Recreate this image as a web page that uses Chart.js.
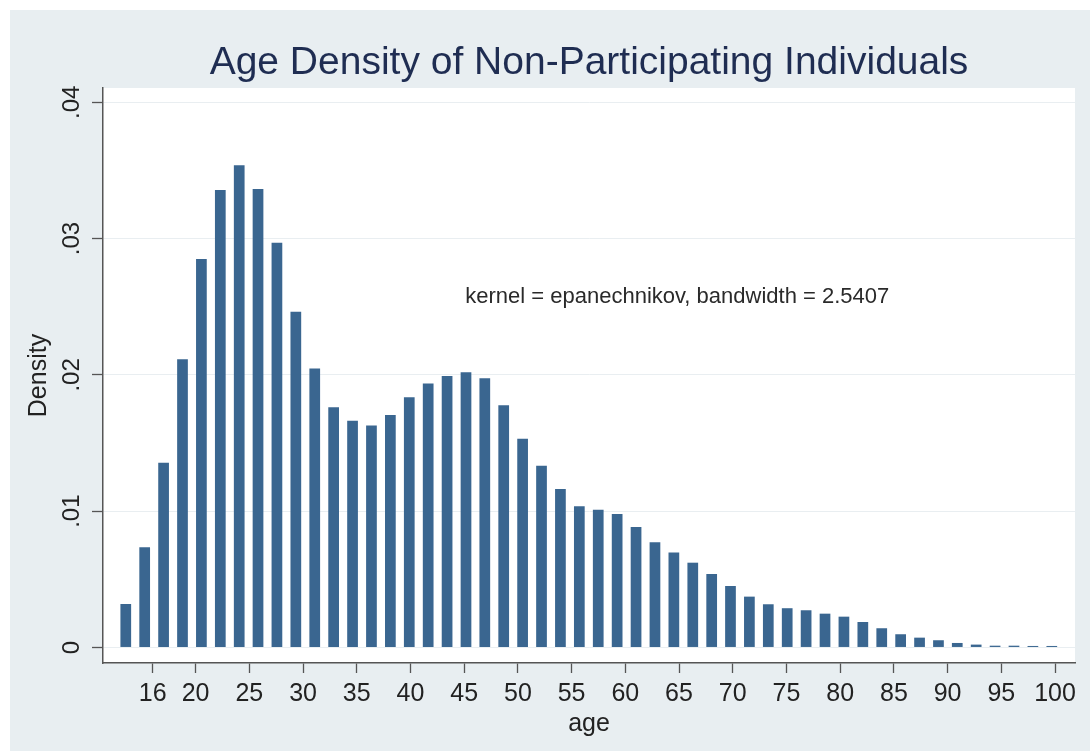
<!DOCTYPE html>
<html>
<head>
<meta charset="utf-8">
<title>Age Density of Non-Participating Individuals</title>
<script src="https://cdn.jsdelivr.net/npm/chart.js@4.4.1/dist/chart.umd.min.js"></script>
<style>
  html, body { margin: 0; padding: 0; background: #ffffff; }
  #wrap { width: 1090px; height: 751px; position: relative; }
</style>
</head>
<body>
<div id="wrap"><canvas id="c" width="1090" height="751"></canvas></div>
<script>
// Kernel density estimate of age, evaluated at 50 points
const ages = [
  13.50, 15.26, 17.02, 18.78, 20.54, 22.30, 24.06, 25.81, 27.57, 29.33,
  31.09, 32.85, 34.61, 36.37, 38.13, 39.89, 41.65, 43.41, 45.17, 46.92,
  48.68, 50.44, 52.20, 53.96, 55.72, 57.48, 59.24, 61.00, 62.76, 64.52,
  66.28, 68.04, 69.79, 71.55, 73.31, 75.07, 76.83, 78.59, 80.35, 82.11,
  83.87, 85.63, 87.39, 89.15, 90.90, 92.66, 94.42, 96.18, 97.94, 99.70
];
const density = [
  0.00319, 0.00735, 0.01356, 0.02114, 0.02850, 0.03357, 0.03538, 0.03364, 0.02970, 0.02464,
  0.02046, 0.01762, 0.01664, 0.01628, 0.01706, 0.01836, 0.01936, 0.01992, 0.02019, 0.01975,
  0.01777, 0.01532, 0.01334, 0.01163, 0.01036, 0.01011, 0.00979, 0.00884, 0.00772, 0.00696,
  0.00622, 0.00539, 0.00451, 0.00373, 0.00317, 0.00288, 0.00273, 0.00248, 0.00226, 0.00187,
  0.00141, 0.00097, 0.00072, 0.00053, 0.00033, 0.00021, 0.00013, 0.00013, 0.00011, 0.00011
];
const xTicks = [16, 20, 25, 30, 35, 40, 45, 50, 55, 60, 65, 70, 75, 80, 85, 90, 95, 100];
const yTicks = [0, 0.01, 0.02, 0.03, 0.04];
const yTickLabels = ['0', '.01', '.02', '.03', '.04'];
const titleText = 'Age Density of Non-Participating Individuals';
const noteText = 'kernel = epanechnikov, bandwidth = 2.5407';
const noteAt = { age: 45.1, dens: 0.0257 };

const FONT = "'Liberation Sans', Arial, Helvetica, sans-serif";

// Outer graph region, white plot region and the title centred over the plot
const backgrounds = {
  id: 'backgrounds',
  beforeDraw(chart) {
    const { ctx, chartArea: a } = chart;
    ctx.save();
    ctx.fillStyle = '#ffffff';
    ctx.fillRect(0, 0, chart.width, chart.height);
    ctx.fillStyle = '#e8eef1';
    ctx.fillRect(10, 10, chart.width - 10, chart.height - 10);
    ctx.fillStyle = '#ffffff';
    ctx.fillRect(a.left, a.top, a.right - a.left, a.bottom - a.top);
    ctx.font = '39px ' + FONT;
    ctx.fillStyle = '#1f2d52';
    ctx.textAlign = 'center';
    ctx.textBaseline = 'alphabetic';
    ctx.fillText(titleText, (a.left + a.right) / 2, a.top - 14);
    ctx.restore();
  }
};

// Kernel/bandwidth note inside the plot
const note = {
  id: 'note',
  afterDatasetsDraw(chart) {
    const { ctx, scales } = chart;
    ctx.save();
    ctx.font = '22px ' + FONT;
    ctx.fillStyle = '#2a2a2a';
    ctx.textAlign = 'left';
    ctx.textBaseline = 'middle';
    ctx.fillText(noteText, scales.x.getPixelForValue(noteAt.age), scales.y.getPixelForValue(noteAt.dens));
    ctx.restore();
  }
};

new Chart(document.getElementById('c'), {
  type: 'bar',
  data: {
    datasets: [{
      data: ages.map((a, i) => ({ x: a, y: density[i] })),
      backgroundColor: '#3a6690',
      borderWidth: 0,
      barPercentage: 0.57,
      categoryPercentage: 1.0
    }]
  },
  options: {
    responsive: false,
    animation: false,
    devicePixelRatio: 1,
    layout: { padding: { left: 0, right: 15, top: 88, bottom: 0 } },
    plugins: {
      legend: { display: false },
      tooltip: { enabled: false },
      title: { display: false }
    },
    scales: {
      x: {
        type: 'linear',
        offset: false,
        min: 11.38,
        max: 101.86,
        afterBuildTicks: s => { s.ticks = xTicks.map(v => ({ value: v })); },
        afterFit: s => { s.height = 88; },
        ticks: {
          autoSkip: false, maxRotation: 0, minRotation: 0,
          color: '#222222', padding: 6,
          font: { family: FONT, size: 25 },
          callback: v => String(v)
        },
        grid: { offset: false, drawOnChartArea: false, tickLength: 10, tickColor: '#555555', tickWidth: 1.3 },
        border: { color: '#555555', width: 1.5 },
        title: {
          display: true, text: 'age', color: '#222222',
          font: { family: FONT, size: 25 },
          padding: { top: 0, bottom: 12 }
        }
      },
      y: {
        type: 'linear',
        min: -0.00114,
        max: 0.04105,
        afterBuildTicks: s => { s.ticks = yTicks.map(v => ({ value: v })); },
        afterFit: s => { s.width = 103; },
        ticks: {
          minRotation: 90, maxRotation: 90,
          crossAlign: 'center',
          color: '#222222', padding: 3,
          font: { family: FONT, size: 24 },
          callback: (v, i) => yTickLabels[i]
        },
        grid: { color: '#e9eef1', lineWidth: 1, tickLength: 11, tickColor: '#555555', tickWidth: 1.3 },
        border: { color: '#555555', width: 1.5 },
        title: {
          display: true, text: 'Density', color: '#222222',
          font: { family: FONT, size: 25 },
          padding: { top: 24, bottom: 0 }
        }
      }
    }
  },
  plugins: [backgrounds, note]
});
</script>
</body>
</html>
